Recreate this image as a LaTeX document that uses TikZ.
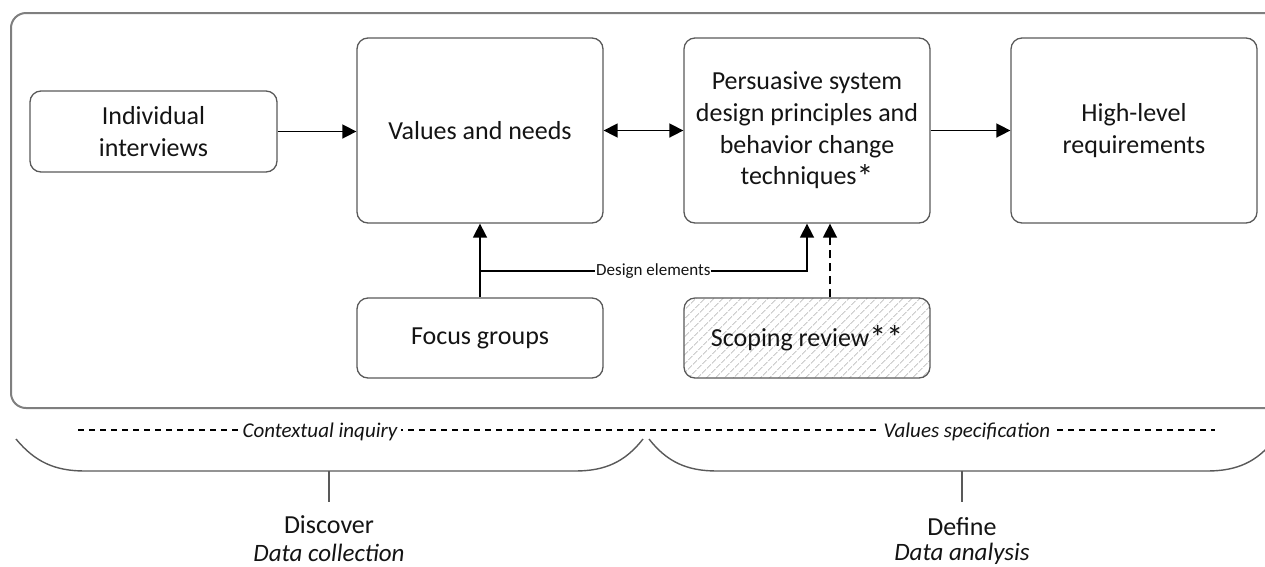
\documentclass[tikz,border=0pt]{standalone}
\usepackage{fontspec}
\setmainfont{Carlito}
\usetikzlibrary{arrows.meta,patterns.meta}
\definecolor{boxgray}{HTML}{595959}
\definecolor{outergray}{HTML}{7F7F7F}
\definecolor{hatchgray}{HTML}{CFCFCF}
\definecolor{txt}{HTML}{141414}
\newcommand\bigstar{\raisebox{-0.12em}{\scalebox{1.3}{*}}}
\tikzset{
  box/.style={draw=boxgray, line width=1.3pt, rounded corners=11pt, minimum width=246pt,
    align=center, inner sep=0pt, text=txt, font=\fontsize{26}{31.7}\selectfont},
  tallbox/.style={box, minimum height=185pt},
  lowbox/.style={box, minimum height=80pt},
  hatched/.style={pattern={Lines[angle=45,distance=6.4pt,line width=1.3pt]}, pattern color=hatchgray},
  arr/.style={line width=1.6pt, draw=black, -{Triangle[length=14pt,width=14pt]}},
  darr/.style={line width=1.6pt, draw=black, {Triangle[length=14pt,width=14pt]}-{Triangle[length=14pt,width=14pt]}},
  dasharr/.style={arr, dash pattern=on 8pt off 5pt},
  lbl/.style={fill=white, inner sep=1pt, text=txt, font=\fontsize{17}{20}\selectfont},
  phase/.style={fill=white, inner sep=4pt, text=txt, font=\fontsize{21}{25}\selectfont\itshape},
  brace/.style={draw=boxgray, line width=1.4pt},
  stage/.style={text=txt, font=\fontsize{26}{30}\selectfont, inner sep=0pt},
  stagesub/.style={text=txt, font=\fontsize{25}{30}\selectfont\itshape, inner sep=0pt},
}
\begin{document}
\begin{tikzpicture}[x=1pt,y=-1pt]
\useasboundingbox (0,0) rectangle (1265,566);
\clip (0,0) rectangle (1265,566);
% outer frame (open to the right)
\draw[draw=outergray, line width=2pt, rounded corners=15pt] (11,13) rectangle (1300,408);

\node[box, minimum width=247pt, minimum height=81pt] (ind) at (153.5,131.5) {Individual\\interviews};
\node[tallbox] (val) at (480,130.5) {Values and needs};
\node[tallbox] (per) at (807,130.5) {Persuasive system\\design principles and\\behavior change\\techniques\bigstar};
\node[tallbox] (high) at (1134,130.5) {High-level\\requirements};
\node[lowbox] (foc) at (480,338) {Focus groups};
\node[lowbox, hatched] (scop) at (807,338) {Scoping review\bigstar\bigstar};

\draw[arr] (ind.east) -- (ind.east -| val.west);
\draw[darr] (val.east) -- (per.west);
\draw[arr] (per.east) -- (high.west);
\draw[arr] (foc.north) -- (val.south);
\coordinate (j) at (480,271);
\draw[arr] (j) -- node[lbl, pos=0.53] {Design elements} (j -| per.south) -- (per.south);
\draw[dasharr] ([xshift=23pt]scop.north) -- ([xshift=23pt]per.south);

% phase line
\coordinate (dl) at (78,430);
\coordinate (dr) at (1215,430);
\draw[line width=1.3pt, dash pattern=on 6pt off 5pt] (dl) -- (dr);
\node[phase] (ci) at (320,432) {Contextual inquiry};
\node[phase] (vs) at (967,432) {Values specification};

% braces
\draw[brace] (16,439) .. controls (35,462) and (55,471) .. (85,471) -- (575,471) .. controls (605,471) and (625,462) .. (643,439);
\draw[brace] (649,439) .. controls (667,462) and (687,471) .. (717,471) -- (1207,471) .. controls (1237,471) and (1257,462) .. (1275,439);
\coordinate (b1) at (329,471);
\coordinate (b2) at (962,471);
\draw[brace, line width=1.2pt] (b1) -- ++(0,31);
\draw[brace, line width=1.2pt] (b2) -- ++(0,31);

\node[stage] (disc) at (329,525) {Discover};
\node[stagesub] (dc) at (329,553) {Data collection};
\node[stage] (def) at (962,527) {Define};
\node[stagesub] (da) at (962,554) {Data analysis};
\end{tikzpicture}
\end{document}
